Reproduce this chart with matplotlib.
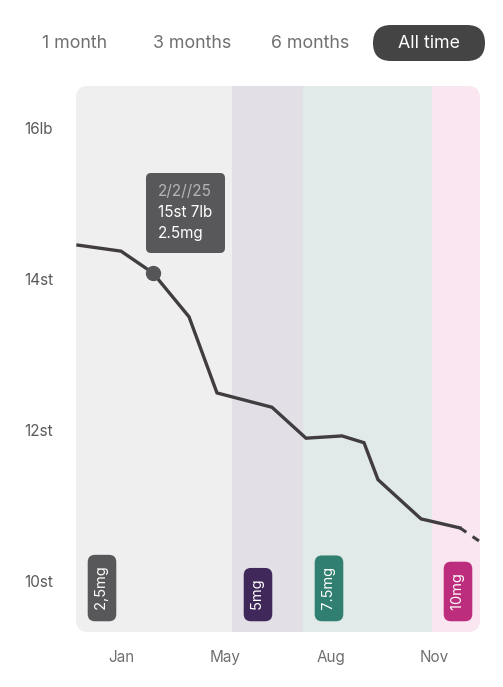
import matplotlib
matplotlib.use("Agg")
import matplotlib.pyplot as plt
from matplotlib.patches import FancyBboxPatch

plt.rcParams['font.family'] = ['Inter', 'DejaVu Sans']

# timeline in days from the left edge of the chart
day = [2, 45, 77, 113, 141, 196, 230, 266, 288, 302, 345, 384]
weight_st = [14.45, 14.37, 14.08, 13.50, 12.49, 12.30, 11.89, 11.92, 11.83, 11.34, 10.82, 10.70]
projected_day = [384, 406]
projected_st = [10.70, 10.50]

highlight_idx = 2
tooltip_lines = ["2/2//25", "15st 7lb", "2.5mg"]

month_ticks = [45, 149, 255, 358]
month_labels = ["Jan", "May", "Aug", "Nov"]
weight_ticks = [16, 14, 12, 10]
weight_labels = ["16lb", "14st", "12st", "10st"]

dose_start = [0, 156, 227, 356]
dose_end = [156, 227, 356, 404]
dose_labels = ["2,5mg", "5mg", "7.5mg", "10mg"]
band_colors = ["#EFEFEF", "#E3DFE7", "#E1EAE8", "#F9E6F0"]
dose_colors = ["#58585A", "#40295A", "#317F70", "#BD2D7E"]

ranges = ["1 month", "3 months", "6 months", "All time"]

#######################################################################################
fig = plt.figure(figsize=(5.03, 6.87), dpi=100)
ax = fig.add_axes([0.76 / 5.03, 0.55 / 6.87, 4.04 / 5.03, 5.46 / 6.87])
ax.set_xlim(0, 404)
ax.set_ylim(9.32, 16.56)
ax.patch.set_visible(False)
for s in ax.spines.values():
    s.set_visible(False)

clip = FancyBboxPatch((0.76, 0.55), 4.04, 5.46, boxstyle="round,pad=0,rounding_size=0.12",
                      transform=fig.dpi_scale_trans)

for i in range(len(dose_start)):
    band = ax.axvspan(dose_start[i], dose_end[i], color=band_colors[i], lw=0, zorder=0)
    band.set_clip_path(clip)
    ax.text(dose_start[i] + 26, 0.033, " " + dose_labels[i] + " ", transform=ax.get_xaxis_transform(),
            rotation=90, ha='center', va='bottom', color='white', fontsize=10.5, zorder=4,
            bbox=dict(boxstyle="round,pad=0.5,rounding_size=0.5", fc=dose_colors[i], ec='none'))

ax.plot(day, weight_st, color='#403C3F', lw=2.4, solid_joinstyle='miter', zorder=3)
ax.plot(projected_day, projected_st, color='#403C3F', lw=2.2, ls=(0, (2.5, 2.5)), zorder=3, clip_on=False)
ax.plot(day[highlight_idx], weight_st[highlight_idx], 'o', color='#555557', ms=10, zorder=5)

ax.set_xticks(month_ticks)
ax.set_xticklabels(month_labels, color='#707070', fontsize=11)
ax.set_yticks(weight_ticks)
ax.set_yticklabels(weight_labels, color='#5A5A5A', fontsize=11)
ax.tick_params(axis='both', length=0)
ax.tick_params(axis='x', pad=13)
ax.tick_params(axis='y', pad=37)
for lab in ax.get_yticklabels():
    lab.set_ha('left')

# tooltip
fig.patches.append(FancyBboxPatch((1.46, 4.34), 0.79, 0.80, boxstyle="round,pad=0,rounding_size=0.05",
                                  fc='#58585A', ec='none', transform=fig.dpi_scale_trans, figure=fig))
tip_colors = ['#B5B5B5', 'white', 'white']
for k in range(len(tooltip_lines)):
    fig.text(1.58 / 5.03, 1 - (1.92 + 0.21 * k) / 6.87, tooltip_lines[k], color=tip_colors[k],
             fontsize=11, ha='left', va='center')

# range selector
fig.patches.append(FancyBboxPatch((3.73, 6.26), 1.12, 0.36, boxstyle="round,pad=0,rounding_size=0.18",
                                  fc='#444444', ec='none', transform=fig.dpi_scale_trans, figure=fig))
range_x = [0.745, 1.92, 3.10, 4.29]
for k in range(len(ranges)):
    fig.text(range_x[k] / 5.03, 1 - 0.435 / 6.87, ranges[k], ha='center', va='center', fontsize=12.8,
             color='white' if k == 3 else '#707070')

fig.savefig("out.png", dpi=100)
